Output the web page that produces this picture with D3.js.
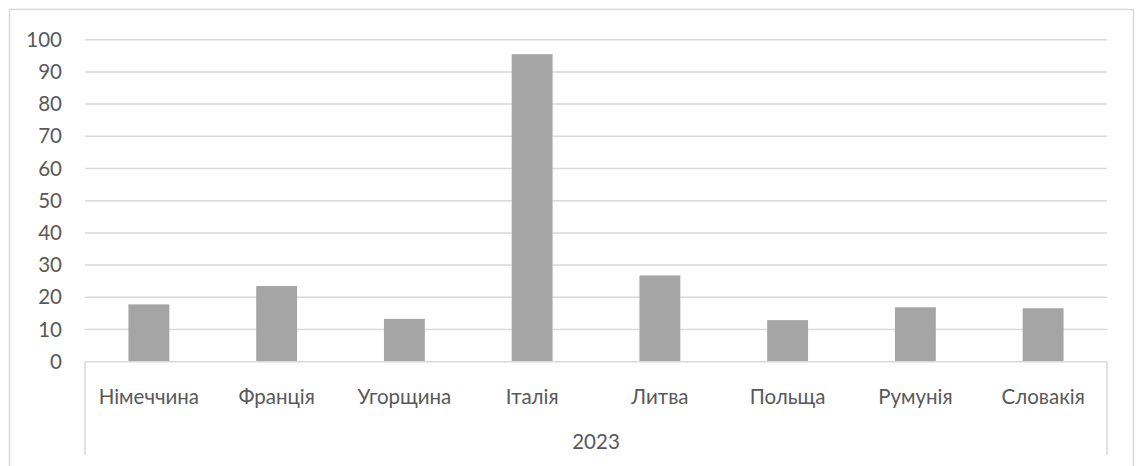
<!DOCTYPE html>
<html>
<head>
<meta charset="utf-8">
<script src="https://cdn.jsdelivr.net/npm/d3@7"></script>
<style>
  html, body { margin: 0; padding: 0; background: #fff; }
  svg { display: block; }
  text { font-family: Lato, "Open Sans", sans-serif; fill: #595959; }
</style>
</head>
<body>
<svg id="chart" width="1137" height="466"></svg>
<script>
// Countries and their values for 2023
const categories = ["Німеччина", "Франція", "Угорщина", "Італія", "Литва", "Польща", "Румунія", "Словакія"];
const values = [17.8, 23.5, 13.3, 95.5, 26.8, 12.9, 16.9, 16.6];
const yTicks = [0, 10, 20, 30, 40, 50, 60, 70, 80, 90, 100];
const groupLabel = "2023";

const svg = d3.select("#chart");
const FONT = "20.5px";

// outer chart frame
svg.append("rect")
  .attr("x", 9.5).attr("y", 9.5)
  .attr("width", 1124).attr("height", 470)
  .attr("fill", "#fff")
  .attr("stroke", "#d9d9d9").attr("stroke-width", 1.5);

const plot = { left: 85, right: 1107, top: 39.7, bottom: 361.7 };

const x = d3.scaleBand()
  .domain(categories)
  .range([plot.left, plot.right])
  .paddingInner(0.68)
  .paddingOuter(0.34);

const y = d3.scaleLinear()
  .domain([0, 100])
  .range([plot.bottom, plot.top]);

// horizontal gridlines
svg.append("g")
  .selectAll("line")
  .data(yTicks.filter(d => d > 0))
  .join("line")
  .attr("x1", plot.left).attr("x2", plot.right)
  .attr("y1", d => y(d)).attr("y2", d => y(d))
  .attr("stroke", "#d9d9d9").attr("stroke-width", 1.5);

// y axis labels
const yAxis = d3.axisLeft(y).tickValues(yTicks).tickSize(0).tickPadding(23);
const gy = svg.append("g")
  .attr("transform", `translate(${plot.left},0)`)
  .call(yAxis);
gy.select(".domain").remove();
gy.selectAll("text")
  .style("font-family", "Lato, 'Open Sans', sans-serif")
  .style("font-size", FONT)
  .attr("fill", "#595959");

// bars
svg.append("g")
  .selectAll("rect")
  .data(values)
  .join("rect")
  .attr("x", (d, i) => x(categories[i]))
  .attr("width", x.bandwidth())
  .attr("y", d => y(d))
  .attr("height", d => y(0) - y(d))
  .attr("fill", "#a5a5a5");

// category axis labels
const xAxis = d3.axisBottom(x).tickSize(0).tickPadding(28);
const gx = svg.append("g")
  .attr("transform", `translate(0,${plot.bottom})`)
  .call(xAxis);
gx.select(".domain").remove();
gx.selectAll("text")
  .style("font-family", "Lato, 'Open Sans', sans-serif")
  .style("font-size", FONT)
  .attr("fill", "#595959");

// category axis baseline
svg.append("line")
  .attr("x1", plot.left).attr("x2", plot.right)
  .attr("y1", plot.bottom).attr("y2", plot.bottom)
  .attr("stroke", "#d9d9d9").attr("stroke-width", 1.5);

// group bracket lines at both ends
[plot.left, plot.right].forEach(px => {
  svg.append("line")
    .attr("x1", px).attr("x2", px)
    .attr("y1", plot.bottom).attr("y2", 455)
    .attr("stroke", "#d9d9d9").attr("stroke-width", 1.5);
});

// group label
svg.append("text")
  .attr("x", (plot.left + plot.right) / 2)
  .attr("y", 449)
  .attr("text-anchor", "middle")
  .style("font-size", FONT)
  .text(groupLabel);
</script>
</body>
</html>
